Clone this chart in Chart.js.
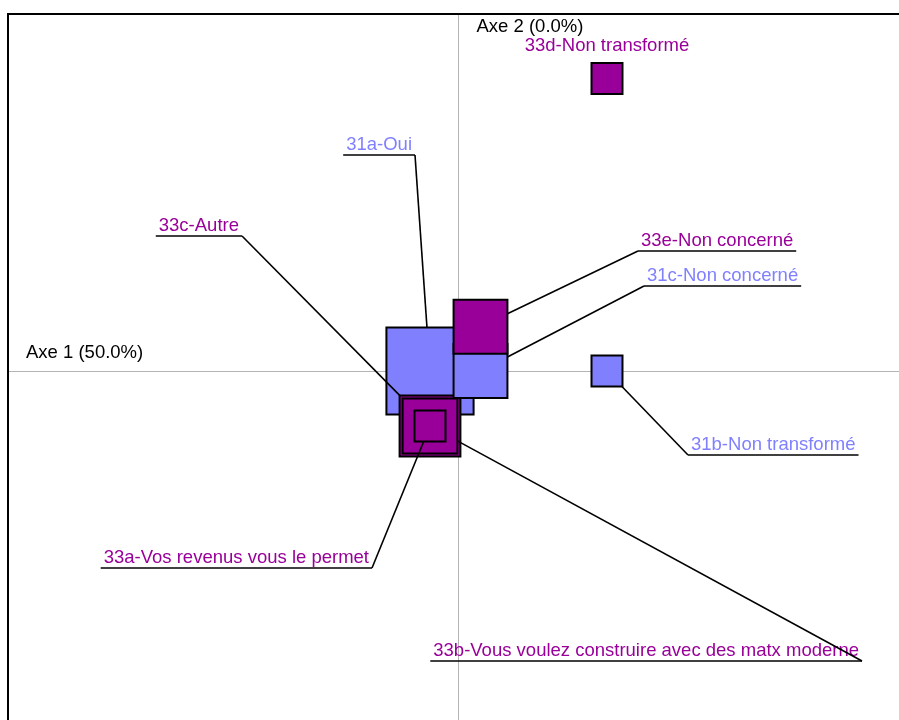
<!DOCTYPE html>
<html>
<head>
<meta charset="utf-8">
<script src="https://cdn.jsdelivr.net/npm/chart.js@4/dist/chart.umd.min.js"></script>
<style>
  html, body { margin: 0; padding: 0; background: #ffffff; }
  canvas { display: block; }
</style>
</head>
<body>
<canvas id="map" width="899" height="720"></canvas>
<script>
// Modalities of questions 31 and 33 on the first factorial plane
const categories = [
  '31a-Oui',
  '31b-Non transformé',
  '31c-Non concerné',
  '33a-Vos revenus vous le permet',
  '33b-Vous voulez construire avec des matx moderne',
  '33c-Autre',
  '33d-Non transformé',
  '33e-Non concerné'
];
const questions = ['31', '31', '31', '33', '33', '33', '33', '33'];
const axis1 = [-0.28, 1.49, 0.225, -0.28, -0.28, -0.28, 1.49, 0.225];
const axis2 = [0.0, 0.0, 0.0, -0.55, -0.55, -0.55, 2.925, 0.443];
const masses = [76, 9.6, 29, 9.6, 30, 37, 9.6, 29];
const axisTitles = ['Axe 1 (50.0%)', 'Axe 2 (0.0%)'];

// Styling and label layout
const colours = { '31': '#8080ff', '33': '#990099' };
const FONT = '18.5px "Liberation Sans", Arial, sans-serif';
const sideOf = m => 10 * Math.sqrt(m);            // square side in px
// attach point of each label's underline, as px offset from the square centre
const labelLayout = [
  { dx: -15,   dy: -216,  attach: 'right' },
  { dx: 81,    dy: 84,    attach: 'left' },
  { dx: 163.5, dy: -85,   attach: 'left' },
  { dx: -58,   dy: 142,   attach: 'right' },
  { dx: 432,   dy: 235,   attach: 'right' },
  { dx: -188,  dy: -190,  attach: 'right' },
  { dx: 0,     dy: -27.5, attach: 'none' },
  { dx: 157.5, dy: -75.7, attach: 'left' }
];

// bigger squares first so the small ones stay visible on top
const order = categories.map((_, i) => i).sort((a, b) => masses[b] - masses[a]);
const points = order.map(i => ({ x: axis1[i], y: axis2[i], i }));

const framePlugin = {
  id: 'frameAndAxes',
  beforeDatasetsDraw(chart) {
    const { ctx, chartArea, scales } = chart;
    const x0 = Math.round(scales.x.getPixelForValue(0)) + 0.5;
    const y0 = Math.round(scales.y.getPixelForValue(0)) + 0.5;
    ctx.save();
    ctx.strokeStyle = '#b4b4b4';
    ctx.lineWidth = 1;
    ctx.beginPath();
    ctx.moveTo(x0, chartArea.top);
    ctx.lineTo(x0, chartArea.bottom);
    ctx.moveTo(chartArea.left, y0);
    ctx.lineTo(chartArea.right, y0);
    ctx.stroke();
    ctx.strokeStyle = '#000000';
    ctx.lineWidth = 2;
    ctx.strokeRect(chartArea.left, chartArea.top, chartArea.width + 40, chartArea.height + 40);
    ctx.fillStyle = '#000000';
    ctx.font = FONT;
    ctx.textBaseline = 'alphabetic';
    ctx.textAlign = 'left';
    ctx.fillText(axisTitles[0], chartArea.left + 18, y0 - 14);
    ctx.fillText(axisTitles[1], x0 + 18, chartArea.top + 18);
    ctx.restore();
  }
};

const labelPlugin = {
  id: 'leaderLabels',
  afterDatasetsDraw(chart) {
    const { ctx, scales } = chart;
    ctx.save();
    ctx.font = FONT;
    ctx.textBaseline = 'alphabetic';
    categories.forEach((name, i) => {
      const cx = scales.x.getPixelForValue(axis1[i]);
      const cy = scales.y.getPixelForValue(axis2[i]);
      const lay = labelLayout[i];
      const ax = cx + lay.dx, ay = cy + lay.dy;
      const w = ctx.measureText(name).width;
      ctx.fillStyle = colours[questions[i]];
      if (lay.attach === 'none') {
        ctx.textAlign = 'center';
        ctx.fillText(name, ax, ay);
        return;
      }
      ctx.textAlign = 'left';
      const x1 = lay.attach === 'right' ? ax - w - 6 : ax;
      const x2 = lay.attach === 'right' ? ax : ax + w + 6;
      ctx.fillText(name, x1 + 3, ay - 5);
      // leader: from the underline end towards the centre, stopping at the square edge
      const h = sideOf(masses[i]) / 2;
      const dx = cx - ax, dy = cy - ay;
      const s = Math.min(h / Math.abs(dx || 1e-9), h / Math.abs(dy || 1e-9));
      const px = cx - dx * s, py = cy - dy * s;
      ctx.strokeStyle = '#000000';
      ctx.lineWidth = 1.6;
      ctx.beginPath();
      ctx.moveTo(x1, ay);
      ctx.lineTo(x2, ay);
      ctx.stroke();
      ctx.beginPath();
      ctx.moveTo(ax, ay);
      ctx.lineTo(px, py);
      ctx.stroke();
    });
    ctx.restore();
  }
};

new Chart(document.getElementById('map'), {
  type: 'scatter',
  data: {
    datasets: [{
      data: points,
      pointStyle: 'rect',
      pointRadius: c => sideOf(masses[c.raw.i]) / Math.SQRT2,
      pointHoverRadius: c => sideOf(masses[c.raw.i]) / Math.SQRT2,
      backgroundColor: c => colours[questions[c.raw.i]],
      borderColor: '#000000',
      borderWidth: 2,
      clip: false
    }]
  },
  options: {
    responsive: false,
    animation: false,
    devicePixelRatio: 1,
    events: [],
    layout: { autoPadding: false, padding: { left: 8, top: 14, right: 0, bottom: 0 } },
    scales: {
      x: { type: 'linear', display: false, min: -4.5, max: 4.41 },
      y: { type: 'linear', display: false, min: -3.49, max: 3.57 }
    },
    plugins: {
      legend: { display: false },
      tooltip: { enabled: false },
      title: { display: false }
    }
  },
  plugins: [framePlugin, labelPlugin]
});
</script>
</body>
</html>
